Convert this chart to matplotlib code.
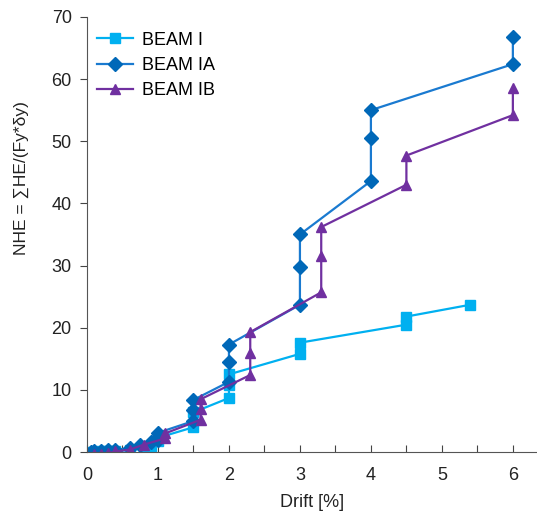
import matplotlib
matplotlib.use("Agg")
import matplotlib.pyplot as plt
from matplotlib.ticker import MultipleLocator

plt.rcParams['font.family'] = ['Liberation Sans', 'DejaVu Sans']

beam_i_x = [0, 0.1, 0.2, 0.3, 0.4, 0.6, 0.8, 0.9, 1.0, 1.0, 1.5, 1.5, 2.0, 2.0, 2.0, 3.0, 3.0, 4.5, 4.5, 5.4]
beam_i_y = [0, 0, 0.1, 0.1, 0.2, 0.3, 0.6, 0.9, 1.8, 2.3, 4.0, 6.4, 8.7, 10.8, 12.5, 15.8, 17.6, 20.5, 21.8, 23.7]

beam_ia_x = [0.05, 0.1, 0.2, 0.3, 0.4, 0.6, 0.75, 0.9, 1.0, 1.0, 1.0, 1.5, 1.5, 1.5, 2, 2, 2, 3, 3, 3, 4, 4, 4, 6, 6]
beam_ia_y = [0, 0.1, 0.2, 0.3, 0.4, 0.6, 1.2, 1.6, 2.0, 2.5, 3.1, 5.0, 6.7, 8.4, 11.3, 14.5, 17.3, 23.7, 29.7, 35.0, 43.6, 50.5, 55.0, 62.4, 66.7]

beam_ib_x = [0.1, 0.2, 0.3, 0.4, 0.6, 0.8, 1.1, 1.1, 1.6, 1.6, 1.6, 2.3, 2.3, 2.3, 3.3, 3.3, 3.3, 4.5, 4.5, 6, 6]
beam_ib_y = [-0.3, -0.3, -0.2, 0.1, 0.4, 1.2, 2.2, 3.0, 5.2, 6.9, 8.5, 12.4, 16.0, 19.3, 25.7, 31.6, 36.2, 43.0, 47.7, 54.2, 58.5]

fig = plt.figure(figsize=(5.37, 5.12), dpi=100)
ax = fig.add_axes([0.162, 0.117, 0.838, 0.85])

ax.plot(beam_i_x, beam_i_y, color='#00B0F0', marker='s', markersize=6.8, lw=1.6, label='BEAM I')
ax.plot(beam_ia_x, beam_ia_y, color='#1A7AD0', marker='D', markersize=6.8, lw=1.6,
        markerfacecolor='#0068B8', markeredgecolor='#0068B8', label='BEAM IA')
ax.plot(beam_ib_x, beam_ib_y, color='#7030A0', marker='^', markersize=7.8, lw=1.6, label='BEAM IB')

ax.set_xlim(0, 6.34)
ax.set_ylim(0, 70)
ax.xaxis.set_major_locator(MultipleLocator(1))
ax.xaxis.set_minor_locator(MultipleLocator(0.5))
ax.yaxis.set_major_locator(MultipleLocator(10))
ax.tick_params(axis='x', which='both', direction='in', length=5, width=0.8, labelsize=13, pad=11, colors='#444444')
ax.tick_params(axis='y', which='major', direction='out', length=5, width=0.8, labelsize=13, pad=6, colors='#444444')
for lab in ax.get_xticklabels() + ax.get_yticklabels():
    lab.set_color('#222222')

ax.spines['top'].set_visible(False)
ax.spines['right'].set_visible(False)
ax.spines['left'].set_color('#555555')
ax.spines['bottom'].set_color('#555555')

ax.set_xlabel('Drift [%]', fontsize=13, color='#222222', labelpad=7)
ax.set_ylabel('NHE = \u2211HE/(Fy*\u03b4y)', fontsize=12.5, color='#222222')
ax.yaxis.set_label_coords(-0.128, 0.63)

ax.legend(loc='upper left', frameon=False, fontsize=13, handlelength=2.0, handletextpad=0.45,
          bbox_to_anchor=(-0.005, 0.995), borderaxespad=0.3, labelspacing=0.45)

fig.savefig('out.png', dpi=100)
